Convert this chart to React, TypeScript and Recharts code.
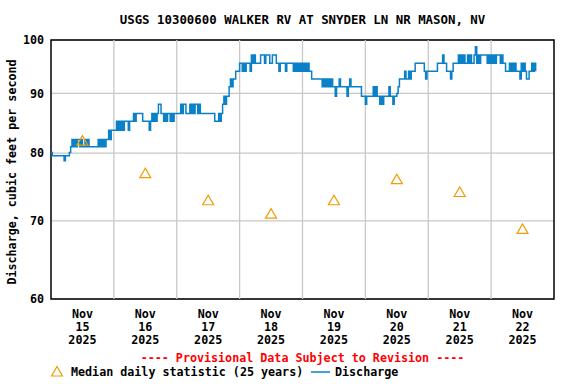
import React from "react";
import {
  ComposedChart,
  Line,
  Scatter,
  XAxis,
  YAxis,
  CartesianGrid,
  ReferenceArea,
  ReferenceLine,
} from "recharts";

// Discharge, cubic feet per second, half-hourly readings starting Nov 15 00:00
const nov15 = [80.1, 79.6, 79.6, 79.6, 79.6, 79.6, 79.6, 79.6, 79.6, 79.6, 78.8, 79.6, 79.6, 79.6, 80.1, 81.0,
  82.2, 81.0, 82.2, 81.0, 82.2, 82.2, 81.0, 82.2, 81.0, 81.0, 82.2, 81.0, 82.2, 81.0,
  81.0, 81.0, 81.0, 81.0, 81.0, 81.0, 82.2, 81.0, 82.2, 81.0, 82.2, 81.0, 82.2, 82.2, 83.7, 82.2, 83.7, 83.7];
const nov16 = [83.7, 83.7, 85.2, 83.7, 85.2, 83.7, 85.2, 83.7, 85.2, 85.2, 85.2, 83.7, 85.2, 85.2, 85.2,
  86.5, 85.2, 86.5, 86.5, 86.5, 86.5, 86.5, 85.2, 85.2, 85.2, 85.2, 85.2, 83.7, 85.2, 86.5, 85.2,
  86.5, 85.2, 86.5, 88.1, 88.1, 86.5, 86.5, 85.2, 86.5, 85.2, 86.5, 86.5, 85.2, 86.5, 85.2, 86.5, 86.5];
const nov17 = [86.5, 86.5, 86.5, 88.1, 86.5, 88.1, 88.1, 86.5, 86.5, 86.5, 88.1, 86.5, 88.1, 86.5, 88.1, 88.1,
  86.5, 88.1, 86.5, 86.5, 86.5, 86.5, 86.5, 86.5, 86.5, 86.5, 86.5, 86.5, 86.5, 85.2, 85.2, 85.2,
  86.5, 85.2, 86.5, 88.1, 89.5, 88.1, 89.5, 89.5, 91.2, 92.6, 91.2, 92.6, 92.6, 94.0, 94.0, 94.0];
const nov18 = [95.5, 95.5, 94.0, 95.5, 94.0, 95.5, 95.5, 95.5, 94.0, 97.1, 95.5, 97.1, 95.5, 95.5, 95.5, 95.5,
  97.1, 97.1, 97.1, 95.5, 97.1, 97.1, 97.1, 95.5, 95.5, 97.1, 97.1, 97.1, 95.5, 95.5, 94.0, 95.5,
  95.5, 95.5, 95.5, 94.0, 95.5, 95.5, 95.5, 95.5, 95.5, 94.0, 95.5, 94.0, 95.5, 94.0, 95.5, 94.0];
const nov19 = [95.5, 94.0, 95.5, 94.0, 95.5, 94.0, 94.0, 92.6, 92.6, 92.6, 92.6, 92.6, 92.6, 92.6, 92.6,
  91.2, 92.6, 91.2, 92.6, 91.2, 92.6, 91.2, 92.6, 91.2, 91.2, 89.5, 91.2, 91.2, 92.6, 91.2, 91.2,
  91.2, 91.2, 91.2, 89.5, 91.2, 92.6, 91.2, 91.2, 91.2, 91.2, 91.2, 91.2, 91.2, 91.2, 89.5, 89.5, 89.5];
const nov20 = [88.1, 89.5, 89.5, 89.5, 89.5, 89.5, 91.2, 89.5, 91.2, 89.5, 89.5, 88.1, 89.5, 88.1,
  89.5, 89.5, 89.5, 89.5, 91.2, 89.5, 89.5, 88.1, 89.5, 89.5, 90.0, 91.2, 92.6, 92.6, 92.6, 92.6,
  94.0, 92.6, 92.6, 94.0, 92.6, 94.0, 94.0, 94.0, 95.5, 95.5, 95.5, 95.5, 95.5, 95.5, 95.5, 94.0, 92.6, 94.0];
const nov21 = [94.0, 94.0, 94.0, 94.0, 94.0, 94.0, 94.0, 95.5, 95.5, 95.5, 95.5, 97.1, 95.5, 95.5,
  94.0, 94.0, 94.0, 92.6, 94.0, 95.5, 95.5, 95.5, 95.5, 97.1, 95.5, 97.1, 95.5, 97.1, 95.5, 95.5,
  97.1, 95.5, 97.1, 95.5, 95.5, 97.1, 98.7, 95.5, 97.1, 95.5, 97.1, 97.1, 97.1, 97.1, 97.1, 95.5, 97.1, 95.5];
const nov22 = [97.1, 95.5, 97.1, 95.5, 97.1, 97.1, 97.1, 95.5, 97.1, 95.5, 95.5, 94.0, 94.0, 94.0,
  95.5, 94.0, 95.5, 94.0, 95.5, 94.0, 94.0, 94.0, 92.6, 95.5, 94.0, 95.5, 94.0, 92.6, 92.6, 94.0,
  94.0, 95.5, 94.0, 95.5, 94.0];
const dischargeDays = [nov15, nov16, nov17, nov18, nov19, nov20, nov21, nov22];
const sampleHours = 0.5;

// Median daily statistic (25 years), at noon of each day
const medianHours = [12, 36, 60, 84, 108, 132, 156, 180];
const medianValues = [82.0, 76.9, 72.9, 71.0, 72.9, 76.0, 74.1, 68.9];

// Axis ticks
const tickHours = [12, 36, 60, 84, 108, 132, 156, 180];
const tickMonths = ["Nov", "Nov", "Nov", "Nov", "Nov", "Nov", "Nov", "Nov"];
const tickDays = ["15", "16", "17", "18", "19", "20", "21", "22"];
const tickYears = ["2025", "2025", "2025", "2025", "2025", "2025", "2025", "2025"];
const gridHours = [24, 48, 72, 96, 120, 144, 168];
const xDomain = [0, 192];
const yTicks = [60, 70, 80, 90, 100];
const yDomain = [60, 100];

const discharge = dischargeDays.flat().map((q, i) => ({ t: i * sampleHours, q }));
const medians = medianHours.map((t, i) => ({ t, v: medianValues[i] }));

const FONT = '"DejaVu Sans Mono", "Liberation Mono", monospace';
const ORANGE = "#f29b00";
const BLUE = "#0a80c8";
const GRID = "#c8c8c8";

const XTick = (props: any) => {
  const { x, y, payload } = props;
  const i = tickHours.indexOf(payload.value);
  if (i < 0) return null;
  return (
    <text
      x={x}
      y={y}
      textAnchor="middle"
      fontFamily={FONT}
      fontWeight="bold"
      fontSize={11.7}
      fill="#000"
    >
      <tspan x={x} dy={19}>{tickMonths[i]}</tspan>
      <tspan x={x} dy={13}>{tickDays[i]}</tspan>
      <tspan x={x} dy={13}>{tickYears[i]}</tspan>
    </text>
  );
};

const Triangle = (props: any) => {
  const { cx, cy } = props;
  if (cx == null || cy == null) return null;
  return (
    <polygon
      points={`${cx},${cy - 5} ${cx - 5.5},${cy + 4.5} ${cx + 5.5},${cy + 4.5}`}
      fill="none"
      stroke={ORANGE}
      strokeWidth={1.2}
    />
  );
};

const textStyle: React.CSSProperties = {
  position: "absolute",
  fontFamily: FONT,
  fontWeight: "bold",
  fontSize: 11.7,
  lineHeight: "14px",
  whiteSpace: "nowrap",
  color: "#000",
};

export default function App() {
  return (
    <div style={{ position: "absolute", left: 0, top: 0, width: 576, height: 384, background: "#fff" }}>
      <ComposedChart
        width={576}
        height={384}
        data={discharge}
        margin={{ top: 40, right: 22, bottom: 25, left: 0 }}
      >
        <XAxis
          dataKey="t"
          type="number"
          domain={xDomain}
          ticks={tickHours}
          allowDataOverflow
          interval={0}
          tick={<XTick />}
          tickLine={false}
          axisLine={false}
          tickSize={0}
          tickMargin={0}
          height={60}
        />
        <YAxis
          type="number"
          scale="log"
          domain={yDomain}
          ticks={yTicks}
          allowDataOverflow
          interval={0}
          width={51}
          tickLine={false}
          axisLine={false}
          tickSize={0}
          tickMargin={7}
          tick={{ fontFamily: FONT, fontWeight: "bold", fontSize: 11.7, fill: "#000" }}
        />
        <CartesianGrid vertical={false} stroke={GRID} strokeWidth={1.3} />
        {gridHours.map((h) => (
          <ReferenceLine key={h} x={h} stroke={GRID} strokeWidth={1.3} />
        ))}
        <Line
          dataKey="q"
          type="stepAfter"
          stroke={BLUE}
          strokeWidth={1.5}
          dot={false}
          isAnimationActive={false}
        />
        <Scatter
          data={medians}
          dataKey="v"
          shape={<Triangle />}
          isAnimationActive={false}
        />
        <ReferenceArea
          x1={xDomain[0]}
          x2={xDomain[1]}
          y1={yDomain[0]}
          y2={yDomain[1]}
          fill="none"
          fillOpacity={0}
          stroke="#000"
          strokeWidth={1.5}
        />
      </ComposedChart>

      <div style={{ ...textStyle, left: 51, width: 503, top: 13, textAlign: "center", fontSize: 12.4 }}>
        USGS 10300600 WALKER RV AT SNYDER LN NR MASON, NV
      </div>

      <div
        style={{
          ...textStyle,
          left: 12 - 150,
          top: 172 - 7,
          width: 300,
          textAlign: "center",
          transform: "rotate(-90deg)",
          transformOrigin: "50% 50%",
        }}
      >
        Discharge, cubic feet per second
      </div>

      <div style={{ ...textStyle, left: 51, width: 503, top: 351, textAlign: "center", color: "#ff0000" }}>
        ---- Provisional Data Subject to Revision ----
      </div>

      <svg style={{ position: "absolute", left: 50, top: 365 }} width={14} height={13}>
        <polygon points="7,1.5 1.5,11 12.5,11" fill="none" stroke={ORANGE} strokeWidth={1.2} />
      </svg>
      <div style={{ ...textStyle, left: 71, top: 365 }}>Median daily statistic (25 years)</div>
      <svg style={{ position: "absolute", left: 311, top: 365 }} width={20} height={14}>
        <line x1={0} y1={7} x2={19} y2={7} stroke={BLUE} strokeWidth={1.5} />
      </svg>
      <div style={{ ...textStyle, left: 335, top: 365 }}>Discharge</div>
    </div>
  );
}
